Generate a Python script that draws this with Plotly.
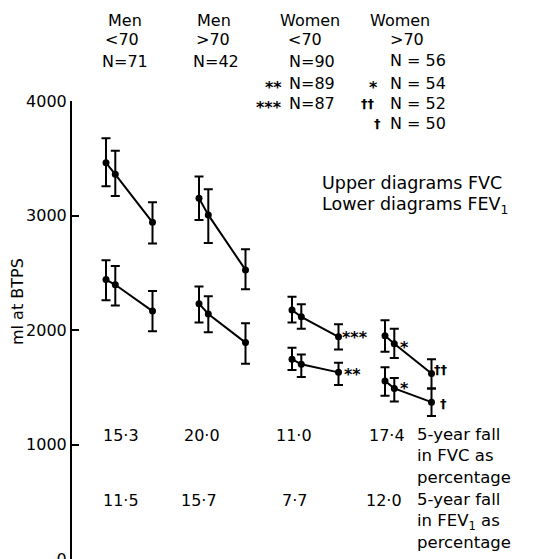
import plotly.graph_objects as go

# ---- data ----
groups = ["Men <70", "Men >70", "Women <70", "Women >70"]
years = [0, 1, 5]
group_offsets = [0, 10, 20, 30]

fvc_mean = [[3460, 3360, 2940], [3150, 3005, 2525], [2175, 2115, 1940], [1950, 1880, 1620]]
fvc_upper = [[3675, 3565, 3115], [3340, 3230, 2705], [2290, 2225, 2050], [2085, 2010, 1745]]
fvc_lower = [[3255, 3170, 2755], [2960, 2760, 2355], [2065, 2010, 1830], [1810, 1755, 1490]]

fev_mean = [[2440, 2395, 2165], [2230, 2140, 1890], [1745, 1700, 1630], [1555, 1490, 1370]]
fev_upper = [[2610, 2560, 2340], [2380, 2295, 2060], [1845, 1785, 1715], [1675, 1580, 1490]]
fev_lower = [[2260, 2215, 1990], [2065, 1980, 1705], [1650, 1590, 1520], [1425, 1375, 1250]]

fvc_fall = ["15·3", "20·0", "11·0", "17·4"]
fev_fall = ["11·5", "15·7", "7·7", "12·0"]
y_ticks = [0, 1000, 2000, 3000, 4000]

# the page body adds an 8px margin; lay the figure out in window pixels
OFF = 8
W, H = 539 - OFF, 559 - OFF
AXIS_X, TOP_Y = 72, 101           # window pixels
ML, MT = AXIS_X - OFF, TOP_Y - OFF
PW, PH = W - ML, H - MT
UNIT = 9.3                        # px per year
X0_PX = 106                       # window px of first point
FONT = "DejaVu Sans"


def px(x):
    return (x - OFF - ML) / PW


def py(y):
    return (H - (y - OFF)) / PH


fig = go.Figure()
for g in range(4):
    xs = [group_offsets[g] + t for t in years]
    for mean, up, lo in ((fvc_mean, fvc_upper, fvc_lower), (fev_mean, fev_upper, fev_lower)):
        m = mean[g]
        fig.add_trace(go.Scatter(
            x=xs, y=m, mode="lines+markers",
            line=dict(color="black", width=2),
            marker=dict(color="black", size=7),
            error_y=dict(type="data", symmetric=False,
                         array=[u - v for u, v in zip(up[g], m)],
                         arrayminus=[v - l for v, l in zip(m, lo[g])],
                         color="black", thickness=2, width=4.5),
            showlegend=False, cliponaxis=False,
        ))

ann = []


def text(t, x, y, anchor="center", size=16):
    ann.append(dict(text=t, x=px(x), y=py(y), xref="paper", yref="paper",
                    xanchor=anchor, yanchor="middle", showarrow=False,
                    align="left", font=dict(family=FONT, size=size, color="black")))


# headers
text("Men", 125, 20); text("<70", 122, 40); text("N=71", 125, 62)
text("Men", 214, 20); text(">70", 213, 40); text("N=42", 216, 62)
text("Women", 310, 20); text("<70", 305, 40); text("N=90", 287, 62, "left")
text("<b>**</b>", 284, 87, "right"); text("N=89", 287, 83, "left")
text("<b>***</b>", 284, 107, "right"); text("N=87", 287, 103, "left")
text("Women", 400, 20); text(">70", 407, 40); text("N = 56", 388, 60, "left")
text("<b>*</b>", 373, 87); text("N = 54", 388, 83, "left")
text("<b>††</b>", 368, 103, size=13); text("N = 52", 388, 103, "left")
text("<b>†</b>", 377, 123, size=13); text("N = 50", 388, 123, "left")

# key
text("Upper diagrams FVC", 320, 183, "left", size=17.5)
text("Lower diagrams FEV<sub>1</sub>", 320, 205, "left", size=17.5)

# point markers
text("<b>***</b>", 355, 337); text("<b>**</b>", 352, 374)
text("<b>*</b>", 404, 347); text("<b>*</b>", 404, 388)
text("<b>††</b>", 441, 369, size=13); text("<b>†</b>", 443, 403, size=13)

# bottom rows
centers1 = [121, 202, 294, 387]
centers2 = [121, 199, 294, 384]
for c, t in zip(centers1, fvc_fall):
    text(t, c, 435)
for c, t in zip(centers2, fev_fall):
    text(t, c, 500)
text("5-year fall<br>in FVC as<br>percentage", 415, 456, "left", size=16.5)
text("5-year fall<br>in FEV<sub>1</sub> as<br>percentage", 415, 521, "left", size=16.5)

# y-axis title
ann.append(dict(text="ml at BTPS", x=px(17), y=py(302), xref="paper", yref="paper",
                xanchor="center", yanchor="middle", textangle=-90, showarrow=False,
                font=dict(family=FONT, size=16, color="black")))

x0 = (AXIS_X - X0_PX) / UNIT
fig.update_layout(
    width=W, height=H,
    margin=dict(l=ML, r=0, t=MT, b=0, pad=0),
    paper_bgcolor="white", plot_bgcolor="white",
    xaxis=dict(range=[x0, x0 + PW / UNIT], visible=False, automargin=False),
    yaxis=dict(range=[0, 4000], tickvals=y_ticks, ticktext=[str(v) for v in y_ticks],
               showline=True, linecolor="black", linewidth=2,
               ticks="inside", ticklen=7, tickwidth=2, tickcolor="black",
               showgrid=False, zeroline=False, ticklabeloverflow="allow",
               automargin=False,
               tickfont=dict(family=FONT, size=16, color="black")),
    annotations=ann,
    font=dict(family=FONT, color="black"),
)
fig.write_html("out.html")
